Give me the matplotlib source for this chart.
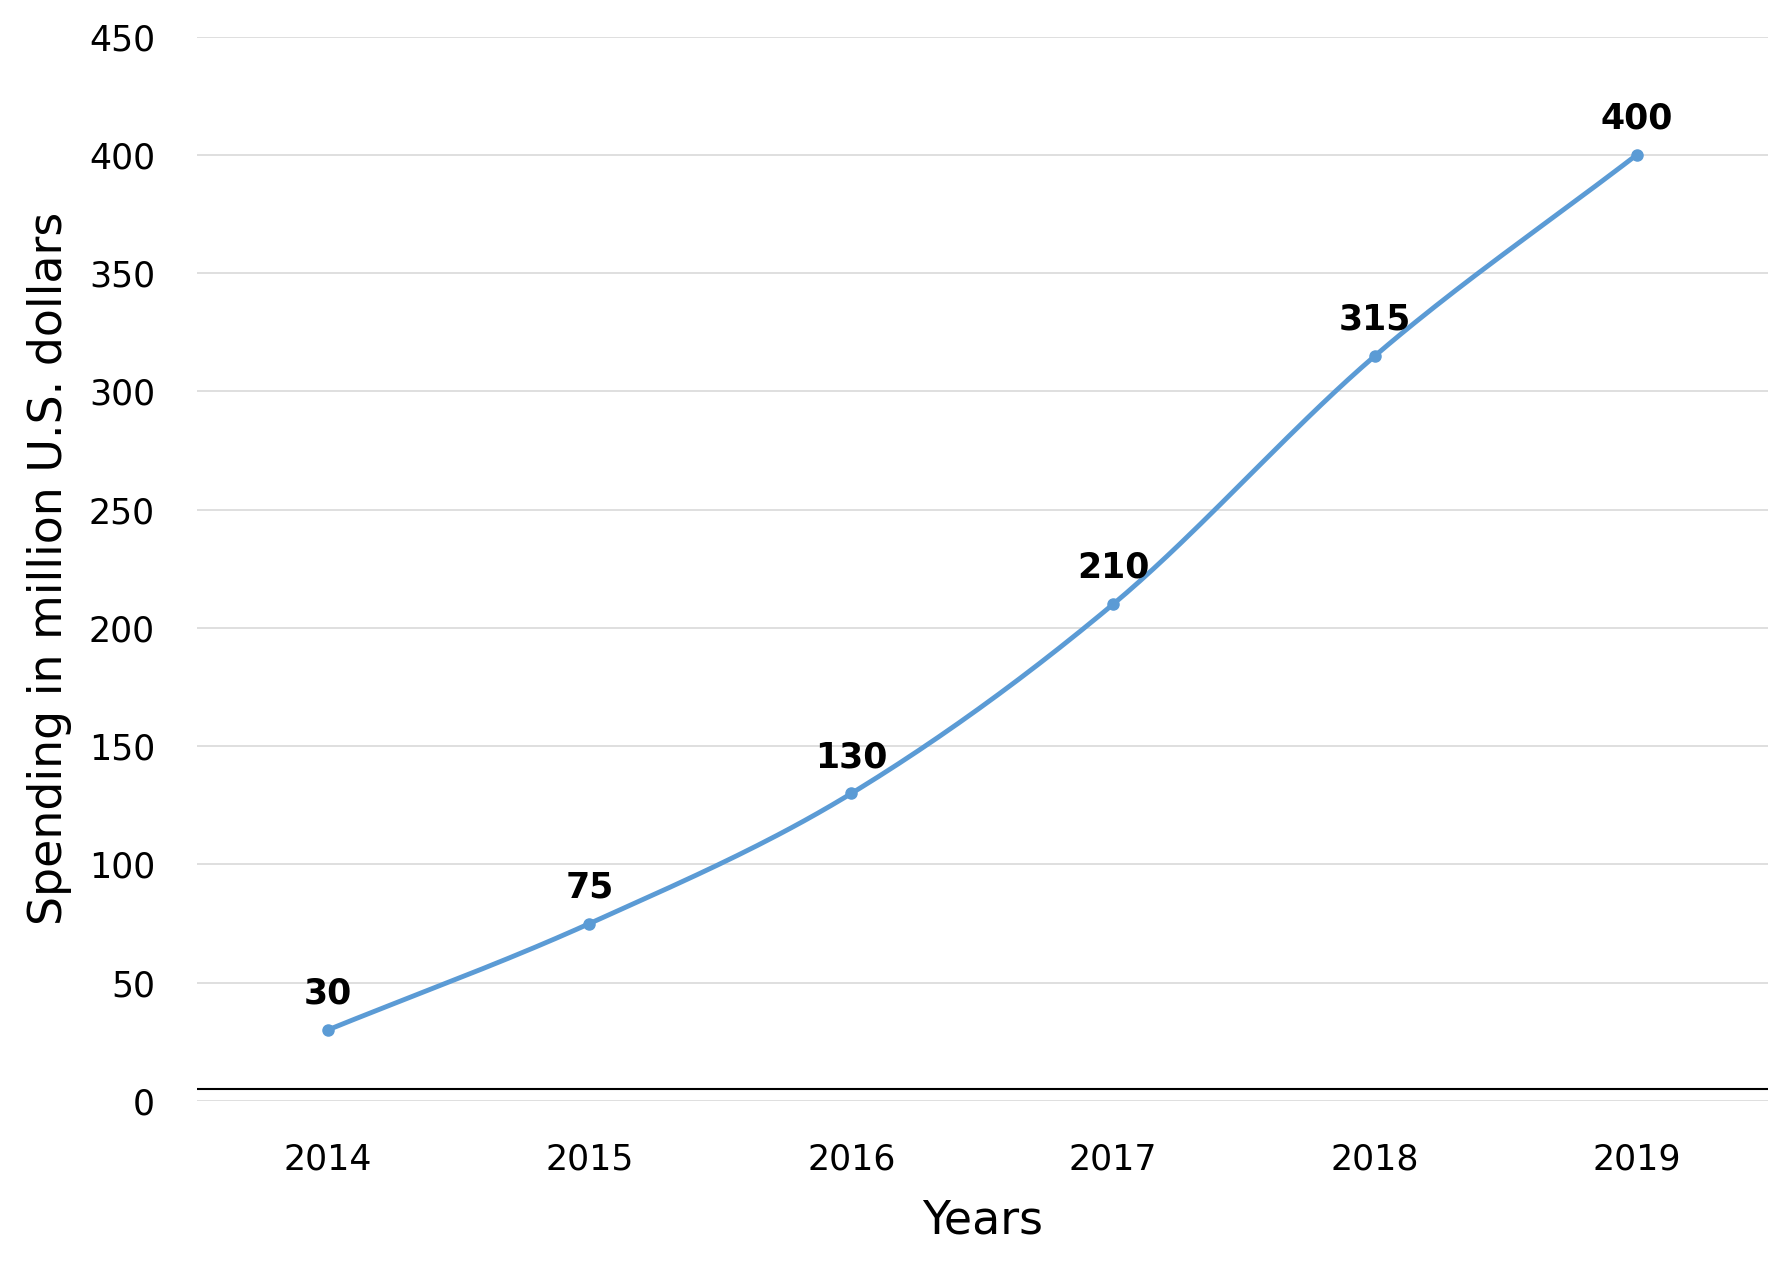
import numpy as np
import matplotlib.pyplot as plt

years = [2014, 2015, 2016, 2017, 2018, 2019]
spending = [30, 75, 130, 210, 315, 400]
yticks = [0, 50, 100, 150, 200, 250, 300, 350, 400, 450]


def smooth(x, y, n=40):
    # Catmull-Rom spline through the points
    x = np.asarray(x, float)
    y = np.asarray(y, float)
    px = np.concatenate([[2 * x[0] - x[1]], x, [2 * x[-1] - x[-2]]])
    py = np.concatenate([[2 * y[0] - y[1]], y, [2 * y[-1] - y[-2]]])
    xs, ys = [], []
    t = np.linspace(0, 1, n)
    for i in range(1, len(px) - 2):
        for p, out in ((px, xs), (py, ys)):
            p0, p1, p2, p3 = p[i - 1], p[i], p[i + 1], p[i + 2]
            out.extend(0.5 * (2 * p1 + (-p0 + p2) * t
                              + (2 * p0 - 5 * p1 + 4 * p2 - p3) * t ** 2
                              + (-p0 + 3 * p1 - 3 * p2 + p3) * t ** 3))
    return xs, ys


fig = plt.figure(figsize=(17.89, 12.64), dpi=100)
ax = fig.add_axes([0.11, 0.129, 0.878, 0.842])
color = '#5b9bd5'

sx, sy = smooth(years, spending)
ax.plot(sx, sy, color=color, lw=3.5)
ax.plot(years, spending, 'o', color=color, ms=8)
for x, y in zip(years, spending):
    ax.annotate(str(y), (x, y), xytext=(0, 14), textcoords='offset points',
                ha='center', va='bottom', fontsize=25, fontweight='bold')

ax.set_xlim(2013.5, 2019.5)
ax.set_ylim(0, 450)
ax.set_yticks(yticks)
ax.set_xticks(years)
ax.grid(axis='y', color='#d9d9d9', lw=1.2)
ax.axhline(5, color='black', lw=1.5)
for s in ax.spines.values():
    s.set_visible(False)
ax.tick_params(length=0, labelsize=25, pad=30)
ax.tick_params(axis='y', pad=30)
ax.set_xlabel('Years', fontsize=33, labelpad=16)
ax.set_ylabel('Spending in million U.S. dollars', fontsize=33, labelpad=12)

fig.savefig('out.png')
